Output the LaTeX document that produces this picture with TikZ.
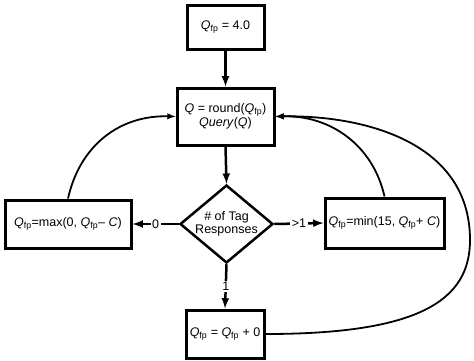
\documentclass[tikz,border=0pt]{standalone}
\usepackage{fontspec}
\setmainfont{Liberation Sans}
\usepackage{tikz}
\usetikzlibrary{arrows}
\usetikzlibrary{shapes.geometric}
\tikzset{>=latex}
\tikzstyle{box} = [rectangle, draw, line width=3pt, inner sep=0pt, align=center, font=\fontsize{12.5}{14}\selectfont]
\tikzstyle{decision} = [diamond, draw, line width=2.5pt, inner sep=0pt, aspect=1.2, align=center, font=\fontsize{12.5}{13}\selectfont]
\tikzstyle{flow} = [-latex, line width=2.5pt]
\tikzstyle{loopback} = [-latex, line width=1.8pt]
\tikzstyle{lab} = [fill=white, inner sep=1.5pt, font=\fontsize{12.5}{14}\selectfont]
\newcommand{\Qfp}{\textit{Q}\textsubscript{fp}}

\begin{document}
\begin{tikzpicture}[x=1pt, y=1pt]
\useasboundingbox (0, 0) rectangle (474, -360);
\node [box, minimum width=77, minimum height=44] (init) at (225.5, -27) {\Qfp{} = 4.0};
\node [box, minimum width=97, minimum height=57] (query) at (225.5, -116.5) {\textit{Q} = round(\Qfp)\\\textit{Query}(\textit{Q})};
\node [decision, minimum width=93, minimum height=78] (resp) at (226.5, -224) {\# of Tag\\Responses};
\node [box, minimum width=126, minimum height=48] (dec) at (68, -224) {\Qfp=max(0, \Qfp– \textit{C})};
\node [box, minimum width=119, minimum height=50] (inc) at (384.5, -223) {\Qfp=min(15, \Qfp+ \textit{C})};
\node [box, minimum width=78, minimum height=48] (keep) at (225, -334) {\Qfp{} = \Qfp{} + 0};
\draw [flow] (init) to (query);
\draw [flow] (query.south) to (resp.north);
\draw [flow] (resp.west) to node[lab, pos=0.5] {0} (dec.east);
\draw [flow] (resp.east) to node[lab, pos=0.5] {>1} (inc.west);
\draw [flow] (resp.south) to node[lab, pos=0.5] {1} (keep.north);
\draw [loopback] (dec.north) .. controls (80, -145) and (120, -115) .. (query.west);
\draw [loopback] (inc.north) .. controls (373, -145) and (330, -115) .. (query.east);
\draw [loopback] (keep.east) .. controls (420, -334) and (470, -300) .. (470, -240) .. controls (470, -140) and (360, -115) .. (query.east);
\end{tikzpicture}
\end{document}
